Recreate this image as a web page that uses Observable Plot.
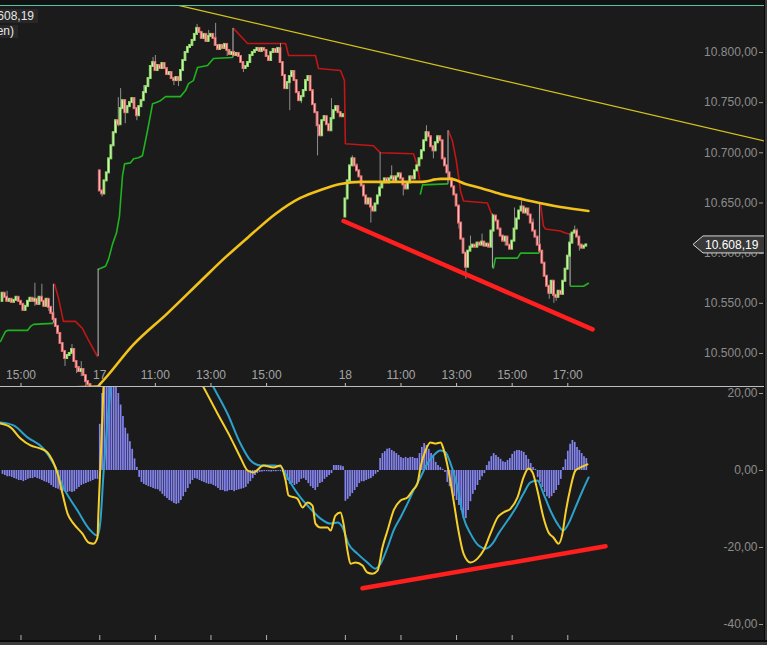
<!DOCTYPE html>
<html lang="de">
<head>
<meta charset="utf-8">
<title>DAX 5 Minuten</title>
<script src="https://cdn.jsdelivr.net/npm/d3@7"></script>
<script src="https://cdn.jsdelivr.net/npm/@observablehq/plot@0.6"></script>
<style>
html, body { margin: 0; padding: 0; background: #1b1b1b; overflow: hidden; }
#chart { position: relative; width: 767px; height: 645px; overflow: hidden; background: #1b1b1b; font-family: "Liberation Sans", Arial, sans-serif; }
#top, #bot { position: absolute; left: 0; width: 767px; }
#top { top: 0; height: 387px; }
#bot { top: 387px; height: 258px; }
.ov { position: absolute; pointer-events: none; }
#strip { left: 0; top: 0; width: 767px; height: 5px; background: #111; }
#teal { left: 0; top: 5px; width: 767px; height: 1px; background: #4cc8a8; }
#sep { left: 0; top: 386px; width: 765px; height: 1px; background: #bcbcbc; }
#rb1 { left: 764px; top: 0; width: 1px; height: 645px; background: #0a0a0a; }
#rb2 { left: 765px; top: 0; width: 2px; height: 645px; background: #3a3a3a; }
#bb1 { left: 0; top: 640px; width: 767px; height: 2px; background: #0a0a0a; }
#bb2 { left: 0; top: 642px; width: 767px; height: 3px; background: #3a3a3a; }
.lbl { position: absolute; white-space: nowrap; text-align: right; color: #e8e8e8; font-size: 12px; background: #272727; padding-right: 4px; }
#lbl1 { right: 729px; top: 9px; height: 14px; line-height: 14px; }
#lbl2 { right: 749px; top: 25px; height: 13px; line-height: 13px; }
</style>
</head>
<body>
<div id="chart">
  <div id="top"></div>
  <div id="bot"></div>
  <div class="ov" id="strip"></div>
  <div class="ov" id="teal"></div>
  <div class="ov" id="sep"></div>
  <div class="ov" id="rb1"></div>
  <div class="ov" id="rb2"></div>
  <div class="ov" id="bb1"></div>
  <div class="ov" id="bb2"></div>
  <div class="lbl" id="lbl1">DAX 10.608,19</div>
  <div class="lbl" id="lbl2">(5 Minuten)</div>
</div>
<script>
// ---------- DATA ----------
// x unit: 5-minute bar index (0 = 16th 15:00)
const timeTickBars = [0, 34, 58, 82, 106, 140, 164, 188, 212, 236];
const timeTickLabels = ["15:00", "17", "11:00", "13:00", "15:00", "18", "11:00", "13:00", "15:00", "17:00"];
const priceTicks = [10500, 10550, 10600, 10650, 10700, 10750, 10800];
const macdTicks = [20, 0, -20, -40];

const startD16 = -8, openD16 = 10552;
const closeD16 = [10560,10556,10552,10554,10551,10553,10556,10552,10549,10543,10547,10552,10555,10552,10554,10549,10556,10552,10547,10554,10546,10540,10534,10527,10520,10510,10502,10495,10498,10500,10504,10492,10486,10482,10484,10478,10472,10469,10466,10462,10464,10460];
const startD17 = 34, openD17 = 10682;
const closeD17 = [10662,10659,10672,10680,10694,10707,10720,10732,10728,10744,10752,10740,10746,10750,10754,10744,10737,10746,10752,10760,10766,10774,10786,10790,10782,10787,10784,10789,10784,10778,10780,10774,10772,10775,10772,10782,10792,10800,10805,10807,10812,10818,10824,10820,10814,10818,10811,10816,10818,10814,10807,10803,10807,10804,10808,10802,10798,10800,10797,10799,10796,10790,10784,10786,10790,10797,10800,10802,10804,10801,10804,10802,10796,10792,10800,10803,10800,10804,10790,10777,10764,10770,10776,10781,10772,10760,10752,10756,10762,10772,10776,10762,10748,10740,10727,10717,10732,10736,10728,10722,10734,10742,10746,10740,10736,10738];
const startD18 = 140, openD18 = 10636;
const closeD18 = [10654,10672,10687,10694,10687,10682,10676,10667,10657,10649,10654,10646,10642,10649,10657,10665,10670,10674,10670,10674,10676,10672,10676,10679,10674,10668,10664,10670,10676,10674,10682,10687,10694,10702,10712,10720,10716,10706,10702,10710,10716,10712,10694,10687,10680,10674,10666,10658,10647,10630,10614,10600,10586,10602,10606,10608,10606,10610,10608,10611,10607,10609,10606,10622,10637,10632,10624,10617,10612,10616,10608,10604,10612,10624,10634,10642,10646,10640,10644,10638,10630,10622,10616,10608,10602,10590,10577,10567,10560,10572,10558,10556,10562,10559,10572,10584,10597,10610,10620,10622,10616,10608,10605,10607,10608.19];

// visible wicks (bar, high, low)
const wickBar  = [-6, 6, 9, 12, 19, 22, 24, 26, 28, 35, 42, 43, 45, 50, 53, 57, 58, 66, 68, 76, 81, 84, 89, 96, 112, 116, 121, 128, 134, 143, 145, 151, 155, 160, 165, 175, 178, 189, 192, 194, 199, 209, 213, 216, 221, 228, 230, 231, 239, 240, 241];
const wickHigh = [10562, 10570, 10569, null, null, 10509, null, 10492, null, null, 10755, 10764, null, null, 10767, 10795, 10797, null, null, 10828, 10822, 10829, null, null, 10809, null, null, null, 10754, 10697, 10689, null, 10700, 10687, null, 10727, null, null, null, 10617, 10619, null, 10645, 10652, 10634, null, null, null, 10627, 10624, null];
const wickLow  = [null, 10547, null, 10542, 10487, null, 10480, 10477, 10467, 10656, 10726, null, 10729, 10732, null, null, null, 10767, 10766, null, null, null, 10796, 10780, null, 10742, 10749, 10697, null, null, null, 10630, null, null, 10657, null, 10694, 10624, 10574, null, null, 10607, null, null, null, 10554, 10550, 10552, null, null, 10602];

// stop indicator segments [bar, price]
const supportSegments = [
  [[-8.85,10512],[-6.7,10522],[-5.8,10523],[2.8,10523],[4.1,10527],[5.4,10529],[13.6,10530]],
  [[33.4,10584],[36.5,10587],[37.8,10594],[39.5,10609],[41.2,10620],[42.5,10637],[43.8,10677],[44.7,10689],[47.3,10690],[48.6,10694],[50.7,10695],[52.4,10697],[54.6,10722],[56.8,10749],[58.1,10750],[60.2,10752],[62.4,10756],[68.8,10756],[71.0,10762],[72.3,10769],[74.4,10772],[76.2,10785],[80.5,10787],[83.1,10794],[91.3,10795]],
  [[172.4,10659],[173.3,10668],[184.1,10669]],
  [[203.9,10585],[204.8,10595],[214.3,10595],[215.6,10600],[223.4,10600]],
  [[237.2,10567],[242.8,10567],[244.9,10570]]
];
const resistSegments = [
  [[14.5,10569],[16.2,10555],[18.3,10532],[23.5,10532],[26.5,10525],[28.7,10515],[33.0,10497]],
  [[91.7,10824],[97.8,10809],[114.2,10809],[115.5,10797],[127.1,10797],[128.4,10784],[137.9,10782],[139.6,10772],[140.0,10709],[152.1,10707],[155.2,10700],[169.4,10699],[171.1,10687],[172.0,10674]],
  [[184.5,10722],[186.2,10712],[187.9,10692],[189.7,10662],[191.0,10652],[201.3,10650],[203.1,10639]],
  [[224.2,10650],[225.5,10627],[226.4,10624],[232.8,10622],[235.0,10620],[236.7,10619]]
];
const flipBar  = [14.0, 33.3, 91.5, 184.3, 203.5, 223.8, 237.0];
const flipFrom = [10530, 10497, 10795, 10669, 10639, 10600, 10619];
const flipTo   = [10569, 10584, 10824, 10722, 10585, 10650, 10567];

// 200 moving average
const smaBar = [19.2,33.0,34.3,48.6,63.2,77.5,88.3,99.1,109.8,120.6,129.3,137.9,146.5,155.2,163.8,172.4,181.1,185.4,191.8,198.3,206.9,219.9,232.8,244.9];
const smaVal = [10466,10467,10470,10509,10540,10572,10596,10618,10639,10655,10663,10669,10671,10671,10671,10671,10674,10674,10669,10665,10659,10652,10646,10642];

// drawn trend line and divergence lines
const trendBar = [68.0, 322.2];
const trendPrice = [10847, 10711];
const divPriceBar = [139.2, 246.7];
const divPriceVal = [10632, 10524];
const divMacdBar = [147.4, 252.3];
const divMacdVal = [-30.6, -19.7];

// MACD histogram per bar
const histD16 = [-1.0,-1.3,-1.6,-1.6,-1.8,-2.1,-2.3,-2.6,-2.6,-2.9,-2.6,-2.3,-2.1,-2.1,-1.8,-2.1,-2.3,-2.6,-2.9,-3.1,-3.4,-3.9,-4.4,-4.7,-4.9,-5.2,-5.5,-5.5,-5.7,-5.5,-5.7,-5.5,-4.9,-4.4,-3.9,-3.6,-3.4,-3.1,-2.9,-2.6,-2.3,-2.3];
const histD17 = [12,20,26,30,30,29,27,24,20,17,14,11,9.5,7.5,5.5,3,0.8,-1.8,-3.1,-3.6,-3.9,-4.2,-4.4,-4.7,-4.9,-5.0,-5.5,-6.2,-6.8,-7.3,-7.8,-8.1,-8.6,-8.8,-8.6,-7.8,-6.8,-5.7,-4.7,-3.6,-2.6,-2.1,-2.3,-2.6,-2.9,-3.1,-3.4,-3.6,-3.6,-3.9,-4.2,-4.7,-5.2,-5.2,-5.5,-5.5,-5.2,-5.2,-5.5,-5.2,-5.0,-4.9,-4.7,-4.4,-3.6,-2.9,-2.1,-1.3,-0.8,-0.5,-0.4,-0.3,-0.3,-0.3,-0.4,-0.3,-0.3,-0.2,-0.3,-0.5,-1.3,-2.6,-3.6,-3.4,-3.9,-3.6,-3.1,-2.3,-2.1,-2.6,-3.4,-4.2,-4.7,-5.2,-4.4,-3.4,-3.1,-2.3,-1.8,-1.3,-0.8,1.3,1.3,1.3,1.2,1.0];
const histD18 = [-8.0,-7.5,-6.8,-6.0,-5.2,-4.4,-3.4,-2.9,-2.9,-2.6,-2.3,-2.1,-1.6,-1.0,-0.5,3.1,4.4,4.9,5.5,5.7,5.2,4.9,4.4,3.9,3.4,3.1,3.4,3.1,3.4,3.4,3.1,3.1,4.4,6.0,7.0,6.5,5.5,4.4,3.6,2.1,1.3,0.8,0.3,-0.5,-3.1,-4.2,-5.5,-6.8,-7.8,-9.1,-10.4,-12.5,-12.5,-10.4,-8.1,-6.2,-5.2,-3.9,-2.6,-1.6,-0.8,1.3,2.3,3.6,4.4,3.9,3.4,2.9,2.3,2.1,2.6,3.1,4.2,4.9,5.2,5.2,5.0,4.7,3.9,2.9,1.8,0.8,0.3,-1.8,-3.1,-4.4,-5.7,-6.8,-7.3,-6.8,-6.0,-5.2,-3.9,-2.3,0.8,2.8,5.0,6.8,7.8,7.3,6.0,5.2,4.4,3.6,3.1];

// MACD line and signal line
const macdBar = [-8.85,-4.5,-0.2,4.1,8.4,11.4,13.6,15.8,17.9,20.1,22.7,26.5,29.1,31.3,33.0,33.4,34.3,35.2,35.6,38,48,60,70,78.8,84.8,90.4,94.7,97.8,100.3,104.7,109.0,112.0,114.2,115.5,119.3,121.5,123.7,125.8,127.1,129.3,132.3,133.6,135.7,137.9,139.2,140.9,142.2,144.4,147.4,149.5,151.7,153.9,156.0,158.2,160.8,163.8,166.8,169.0,171.1,172.4,174.6,176.7,178.9,181.1,182.3,184.5,186.7,188.8,191.0,194.0,197.0,199.6,202.6,205.7,208.2,211.3,214.3,216.9,219.0,220.8,222.9,225.5,227.7,229.8,232.0,233.7,235.0,237.2,239.3,241.5,244.5];
const macdVal = [12.2,11.2,8.3,6.5,5.7,4.7,2.6,-0.8,-6.0,-11.2,-13.8,-16.4,-18.7,-19.0,-17.4,-11.2,1.8,14.8,21.6,34,44,40,31,21.6,14.8,8.6,3.4,0,-0.5,1.3,0.8,1.3,-2.6,-6.5,-7.3,-9.6,-8.3,-9.1,-13.8,-14.8,-14.8,-15.6,-11.7,-10.9,-13.8,-20.8,-24.2,-23.9,-24.7,-26.5,-26.8,-26.0,-20.0,-15.6,-10.4,-7.8,-7.0,-5.2,-3.4,0.8,5.2,7.3,7.0,7.3,5.7,0,-7.8,-15.6,-21.6,-23.9,-22.9,-20.8,-16.4,-12.2,-10.9,-9.9,-7.0,-1.8,0.5,-0.5,-5.2,-12.2,-16.1,-17.4,-19.0,-16.4,-11.2,-4.4,0,0.8,1.6];
const sigBar = [-8.85,-3.2,2.8,9.7,14.0,18.3,24.4,30.0,33.0,34.3,35.6,37.3,38.6,40,50,62,72,83.1,89.1,94.7,99.1,103.4,109.0,112.0,115.0,117.6,120.6,124.9,129.3,133.6,136.6,138.8,141.3,145.2,149.5,153.0,155.2,158.2,160.8,163.8,166.8,169.4,172.4,175.4,178.0,181.1,183.2,185.4,188.4,191.0,194.0,197.5,200.5,203.5,206.1,210.0,213.4,216.9,219.9,222.9,225.5,228.5,231.5,234.1,236.3,239.3,242.4,245.0];
const sigVal = [12.5,11.7,8.6,5.7,1.8,-4.4,-10.4,-15.6,-16.9,-13.0,-0.8,12.2,20.8,26,40,42,34,21.6,14.8,7.0,2.6,1.3,1.3,1.0,-1.8,-4.4,-7.0,-9.9,-12.5,-13.8,-13.5,-14.8,-19.0,-21.6,-23.9,-25.5,-24.2,-20.0,-15.6,-12.2,-8.6,-5.2,-1.8,1.8,3.9,5.2,4.7,1.8,-4.4,-12.2,-16.4,-19.5,-20.3,-19.0,-16.4,-13.0,-9.9,-6.0,-3.1,-2.6,-6.0,-10.4,-13.8,-15.6,-13.8,-9.6,-5.2,-1.8];

// ---------- BUILD ----------
const de = d3.formatLocale({decimal: ",", thousands: ".", grouping: [3], currency: ["", ""], minus: "-"});
const fmt2 = de.format(",.2f");
const timeLabel = new Map(timeTickBars.map((b, i) => [b, timeTickLabels[i]]));

function dayCandles(start, firstOpen, closes) {
  return closes.map((c, i) => ({bar: start + i, open: i ? closes[i - 1] : firstOpen, close: c}));
}
const candles = [
  ...dayCandles(startD16, openD16, closeD16),
  ...dayCandles(startD17, openD17, closeD17),
  ...dayCandles(startD18, openD18, closeD18)
];
for (const d of candles) {
  const k = wickBar.indexOf(d.bar);
  const hi = k >= 0 && wickHigh[k] != null ? wickHigh[k] : -Infinity;
  const lo = k >= 0 && wickLow[k] != null ? wickLow[k] : Infinity;
  d.top = Math.max(d.open, d.close);
  d.bottom = Math.min(d.open, d.close);
  d.high = Math.max(d.top, hi);
  d.low = Math.min(d.bottom, lo);
}
const upC = candles.filter(d => d.close >= d.open);
const downC = candles.filter(d => d.close < d.open);
const wicks = candles.filter(d => d.high > d.top || d.low < d.bottom);

const greenPts = supportSegments.flatMap((s, k) => s.map(([bar, price]) => ({bar, price, seg: k})));
const redPts = resistSegments.flatMap((s, k) => s.map(([bar, price]) => ({bar, price, seg: k})));
const flips = flipBar.map((bar, i) => ({bar, from: flipFrom[i], to: flipTo[i]}));
const sma = smaBar.map((bar, i) => ({bar, v: smaVal[i]}));
const trend = trendBar.map((bar, i) => ({bar, v: trendPrice[i]}));
const divTop = divPriceBar.map((bar, i) => ({bar, v: divPriceVal[i]}));
const divBot = divMacdBar.map((bar, i) => ({bar, v: divMacdVal[i]}));
const hist = [
  ...histD16.map((v, i) => ({bar: startD16 + i, v})),
  ...histD17.map((v, i) => ({bar: startD17 + i, v})),
  ...histD18.map((v, i) => ({bar: startD18 + i, v}))
];
const macd = macdBar.map((bar, i) => ({bar, v: macdVal[i]}));
const signal = sigBar.map((bar, i) => ({bar, v: sigVal[i]}));
const lastPrice = closeD18[closeD18.length - 1];

const xDomain = [-8.848, 322.2];
const baseStyle = {background: "transparent", color: "#8a8a8a", fontFamily: "'Liberation Sans', Arial, sans-serif", fontSize: "12px", overflow: "hidden"};
const bodyW = 0.38;

const topPlot = Plot.plot({
  width: 767, height: 387,
  marginTop: 0, marginBottom: 0, marginLeft: 0, marginRight: 0,
  x: {domain: xDomain, label: null},
  y: {domain: [10466.1, 10851.8], label: null},
  style: baseStyle,
  marks: [
    Plot.line(greenPts, {x: "bar", y: "price", z: "seg", stroke: "#1fb31f", strokeWidth: 1.6, clip: true}),
    Plot.line(redPts, {x: "bar", y: "price", z: "seg", stroke: "#c01616", strokeWidth: 1.6, clip: true}),
    Plot.ruleX(flips, {x: "bar", y1: "from", y2: "to", stroke: "#a2a2a2", strokeWidth: 1.2, clip: true}),
    Plot.ruleX(wicks, {x: "bar", y1: "high", y2: "low", stroke: "#8e8e8e", strokeWidth: 1, clip: true}),
    Plot.rect(upC, {x1: d => d.bar - bodyW, x2: d => d.bar + bodyW, y1: "top", y2: "bottom", fill: "#dcffcc", stroke: "#8edc64", strokeWidth: 1, insetTop: -0.5, insetBottom: -0.5, clip: true}),
    Plot.rect(downC, {x1: d => d.bar - bodyW, x2: d => d.bar + bodyW, y1: "top", y2: "bottom", fill: "#ffd6d6", stroke: "#e86c6c", strokeWidth: 1, insetTop: -0.5, insetBottom: -0.5, clip: true}),
    Plot.line(sma, {x: "bar", y: "v", stroke: "#f2c11a", strokeWidth: 2.6, curve: "monotone-x", clip: true}),
    Plot.line(trend, {x: "bar", y: "v", stroke: "#d4c31c", strokeWidth: 1.2}),
    Plot.line(divTop, {x: "bar", y: "v", stroke: "#ff1f1f", strokeWidth: 4.5}),
    Plot.axisY(priceTicks, {anchor: "right", tickSize: 4, dx: -9, stroke: "#9a9a9a", fill: "none", label: null}),
    Plot.axisY(priceTicks, {anchor: "right", tickSize: 0, tickPadding: 0, dx: -10, textAnchor: "end", tickFormat: fmt2, fill: "#8c8c8c", fontSize: 12, label: null}),
    Plot.axisX(timeTickBars, {anchor: "bottom", tickSize: 4, dy: -4, stroke: "#c0c0c0", fill: "none", label: null}),
    Plot.axisX(timeTickBars, {anchor: "bottom", tickSize: 0, tickPadding: 0, dy: -17, tickFormat: d => timeLabel.get(d), fill: "#a4a4a4", fontSize: 12, label: null})
  ]
});
document.getElementById("top").appendChild(topPlot);

// last-price label, placed with the plot's own y scale
const ly = topPlot.scale("y").apply(lastPrice);
const g = d3.select(topPlot).append("g").attr("text-anchor", "start");
g.append("path")
  .attr("d", `M693,${ly} L703,${ly - 8.5} L765,${ly - 8.5} L765,${ly + 8.5} L703,${ly + 8.5} Z`)
  .attr("fill", "#383838").attr("stroke", "#d6d6d6").attr("stroke-width", 1);
g.append("text").attr("x", 705).attr("y", ly + 4.5)
  .attr("text-anchor", "start")
  .attr("fill", "#ffffff").attr("font-size", 12)
  .attr("font-family", "'Liberation Sans', Arial, sans-serif")
  .text(fmt2(lastPrice));

const botPlot = Plot.plot({
  width: 767, height: 258,
  marginTop: 0, marginBottom: 5, marginLeft: 0, marginRight: 0,
  x: {domain: xDomain, label: null},
  y: {domain: [-44.16, 21.56], label: null},
  style: baseStyle,
  marks: [
    Plot.ruleX(hist, {x: "bar", y1: d => 0, y2: "v", stroke: "#8484f0", strokeWidth: 1.7, clip: true}),
    Plot.line(signal, {x: "bar", y: "v", stroke: "#2ba2cc", strokeWidth: 2, curve: "monotone-x", clip: true}),
    Plot.line(macd, {x: "bar", y: "v", stroke: "#f7cf2a", strokeWidth: 2, curve: "monotone-x", clip: true}),
    Plot.line(divBot, {x: "bar", y: "v", stroke: "#ff1f1f", strokeWidth: 4.5}),
    Plot.axisY(macdTicks, {anchor: "right", tickSize: 4, dx: -9, stroke: "#9a9a9a", fill: "none", label: null}),
    Plot.axisY(macdTicks, {anchor: "right", tickSize: 0, tickPadding: 0, dx: -10, textAnchor: "end", tickFormat: fmt2, fill: "#8c8c8c", fontSize: 12, label: null}),
    Plot.axisX(timeTickBars, {anchor: "bottom", tickSize: 5, dy: -5, stroke: "#b4b4b4", fill: "none", label: null})
  ]
});
document.getElementById("bot").appendChild(botPlot);
</script>
</body>
</html>
